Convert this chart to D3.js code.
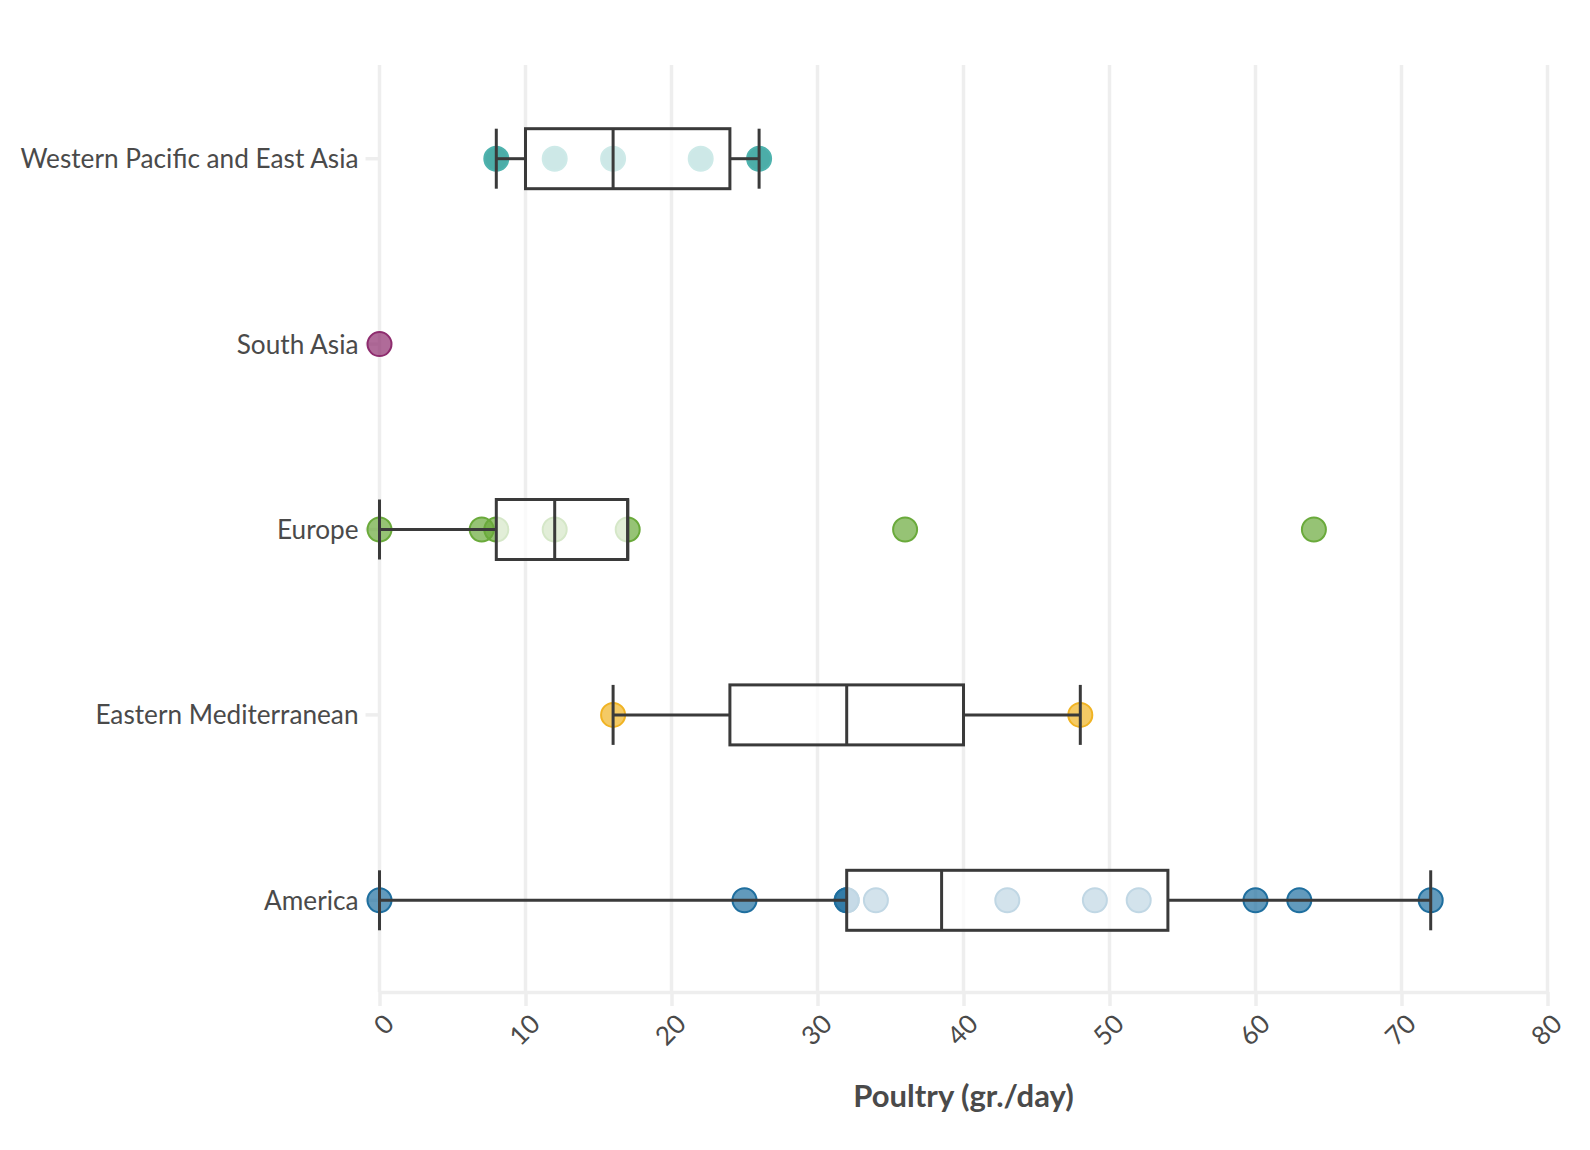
<!DOCTYPE html>
<html>
<head>
<meta charset="utf-8">
<script src="https://cdn.jsdelivr.net/npm/d3@7"></script>
<style>
  html, body { margin: 0; background: #fff; }
  text { font-family: Lato, "Noto Sans", sans-serif; fill: #4a4a4a; }
</style>
</head>
<body>
<div id="chart"></div>
<script>
const regions = ['Western Pacific and East Asia', 'South Asia', 'Europe', 'Eastern Mediterranean', 'America']
const regionColors = ['#008a83', '#8e2c6e', '#6aaa3b', '#f0b323', '#1f6f9f']
const regionStrokes = ['#4fb3ae', '#8e2c6e', '#6aaa3b', '#f0b323', '#1f6f9f']

// one list of points per region, same order as regions
const points = [
  [8, 12, 16, 22, 26],
  [0],
  [0, 7, 8, 12, 17, 36, 64],
  [16, 48],
  [0, 25, 32, 32, 34, 43, 49, 52, 60, 63, 72]
]

// [whisker low, q1, median, q3, whisker high], South Asia has no box
const boxes = [
  [8, 10, 16, 24, 26],
  null,
  [0, 8, 12, 17, 17],
  [16, 24, 32, 40, 48],
  [0, 32, 38.5, 54, 72]
]

const xTicks = [0, 10, 20, 30, 40, 50, 60, 70, 80]
const xLabel = 'Poultry (gr./day)'

const width = 1590
const height = 1150
const margin = {top: 65, right: 42.5, bottom: 158, left: 379.5}

const x = d3.scaleLinear().domain([0, 80]).range([margin.left, width - margin.right])
const y = d3.scaleBand().domain(regions).range([margin.top + 1, height - margin.bottom + 1])

const svg = d3.select('#chart').append('svg')
  .attr('width', width)
  .attr('height', height)
  .style('display', 'block')

// grid
svg.append('g').selectAll('line').data(xTicks).join('line')
  .attr('x1', d => x(d)).attr('x2', d => x(d))
  .attr('y1', margin.top).attr('y2', height - margin.bottom)
  .attr('stroke', '#eee').attr('stroke-width', 3.5)

// axes
const xAxis = svg.append('g')
  .attr('transform', `translate(0,${height - margin.bottom})`)
  .call(d3.axisBottom(x).tickValues(xTicks).tickSize(14).tickPadding(6).tickSizeOuter(0))
xAxis.select('.domain').attr('stroke', '#eee').attr('stroke-width', 3.5)
xAxis.selectAll('line').attr('stroke', '#eee').attr('stroke-width', 3.5)
xAxis.selectAll('text')
  .attr('font-size', 26)
  .attr('text-anchor', 'end')
  .attr('dy', 0)
  .attr('y', 0)
  .attr('transform', 'translate(11,29) rotate(-45)')
  .attr('dominant-baseline', 'middle')

const yAxis = svg.append('g')
  .attr('transform', `translate(${margin.left},0)`)
  .call(d3.axisLeft(y).tickSize(14).tickPadding(7).tickSizeOuter(0))
yAxis.select('.domain').remove()
yAxis.selectAll('line').attr('stroke', '#eee').attr('stroke-width', 3.5)
yAxis.selectAll('text').attr('font-size', 26.2).attr('dy', '0.36em')

const cy = r => y(r) + y.bandwidth() / 2

// points
regions.forEach((region, i) => {
  svg.append('g').selectAll('circle').data(points[i]).join('circle')
    .attr('cx', d => x(d))
    .attr('cy', cy(region))
    .attr('r', 12)
    .attr('fill', regionColors[i])
    .attr('fill-opacity', 0.7)
    .attr('stroke', regionStrokes[i])
    .attr('stroke-width', 2)
})

// boxes
const boxH = 60
regions.forEach((region, i) => {
  const b = boxes[i]
  if (!b) return
  const [lo, q1, med, q3, hi] = b
  const c = cy(region)
  const g = svg.append('g').attr('stroke', '#3a3a3a').attr('stroke-width', 3)
  g.append('line').attr('x1', x(lo)).attr('x2', x(q1)).attr('y1', c).attr('y2', c)
  g.append('line').attr('x1', x(q3)).attr('x2', x(hi)).attr('y1', c).attr('y2', c)
  g.append('rect')
    .attr('x', x(q1)).attr('y', c - boxH / 2)
    .attr('width', x(q3) - x(q1)).attr('height', boxH)
    .attr('fill', '#fff').attr('fill-opacity', 0.72)
  g.selectAll('line.cap').data([lo, med, hi]).join('line')
    .attr('class', 'cap')
    .attr('x1', d => x(d)).attr('x2', d => x(d))
    .attr('y1', c - boxH / 2).attr('y2', c + boxH / 2)
})

svg.append('text')
  .attr('x', x(40))
  .attr('y', 1107)
  .attr('text-anchor', 'middle')
  .attr('font-size', 31)
  .attr('font-weight', 700)
  .text(xLabel)
</script>
</body>
</html>
